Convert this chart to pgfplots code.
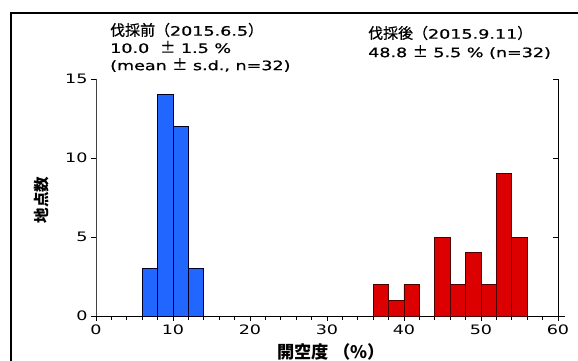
\documentclass[border=0pt]{standalone}
\usepackage{pgfplots}
\pgfplotsset{compat=1.18}
\usepackage{fontspec}
\setmainfont{DejaVu Sans}[FakeStretch=1.35]
\newfontfamily\annot{DejaVu Sans}[FakeStretch=1.35, FakeBold=0.8]
\newfontfamily\cjk{Noto Sans CJK JP}[Scale=1.15]
\newfontfamily\cjka{Noto Sans CJK JP}[Scale=1.15, FakeBold=0.8]
\definecolor{barblue}{HTML}{2166FF}
\definecolor{barred}{HTML}{DD0000}
\begin{document}
\begin{tikzpicture}
\path[use as bounding box] (-96pt,-44pt) rectangle (482pt,316pt);
\draw[line width=1.6pt] (-85pt,-50pt) -- (-85pt,303pt) -- (490pt,303pt);
\begin{axis}[
  at={(0,0)}, anchor=south west,
  scale only axis, width=462pt, height=237pt,
  xmin=0, xmax=60, ymin=0, ymax=15,
  enlargelimits=false,
  axis x line*=bottom, axis y line*=left,
  x axis line style={-, shorten >=-7pt},
  y axis line style={-, draw=black!75},
  tick align=outside,
  xtick={0,10,...,60}, minor x tick num=4,
  ytick={0,5,10,15},
  major tick length=5pt, minor tick length=3.5pt,
  tick style={black, line width=0.8pt},
  every axis plot/.append style={line width=0.8pt},
  /pgf/number format/assume math mode=true,
  tick label style={font=\fontsize{13}{15}\selectfont},
  clip=false,
]
\addplot[ybar, bar width=2, bar shift=0pt, fill=barblue, draw=black!85!blue] coordinates {(7,3) (9,14) (11,12) (13,3)};
\addplot[ybar, bar width=2, bar shift=0pt, fill=barred, draw=black!70!red] coordinates {(37,2) (39,1) (41,2) (45,5) (47,2) (49,4) (51,2) (53,9) (55,5)};
\end{axis}
\begin{axis}[
  at={(0,0)}, anchor=south west,
  scale only axis, width=462pt, height=237pt,
  xmin=0, xmax=60, ymin=0, ymax=15,
  axis x line=none, axis y line*=right,
  y axis line style={-},
  xtick=\empty, ytick={5,10,15}, yticklabels={},
  tick align=inside, major tick length=5pt,
  tick style={black, line width=0.8pt},
]
\end{axis}
\begin{scope}[every node/.style={anchor=west, inner sep=0pt, font=\annot\fontsize{13}{15}\selectfont}]
\node at (14pt,286pt) {{\cjka 伐採前（}2015.6.5{\cjka ）}};
\node at (14pt,269pt) {10.0 \ {\cjka ±} 1.5 \%};
\node at (14pt,251pt) {(mean {\cjka ±} s.d., n=32)};
\node at (272pt,283pt) {{\cjka 伐採後（}2015.9.11{\cjka ）}};
\node at (272pt,264pt) {48.8 {\cjka ±} 5.5 \% (n=32)};
\end{scope}
\node[rotate=90, font=\cjk\bfseries\fontsize{13.5}{15}\selectfont] at (-54pt,116pt) {地点数};
\node[font=\cjk\bfseries\fontsize{15}{17}\selectfont] at (235pt,-36pt) {開空度 （\%）};
\end{tikzpicture}
\end{document}
